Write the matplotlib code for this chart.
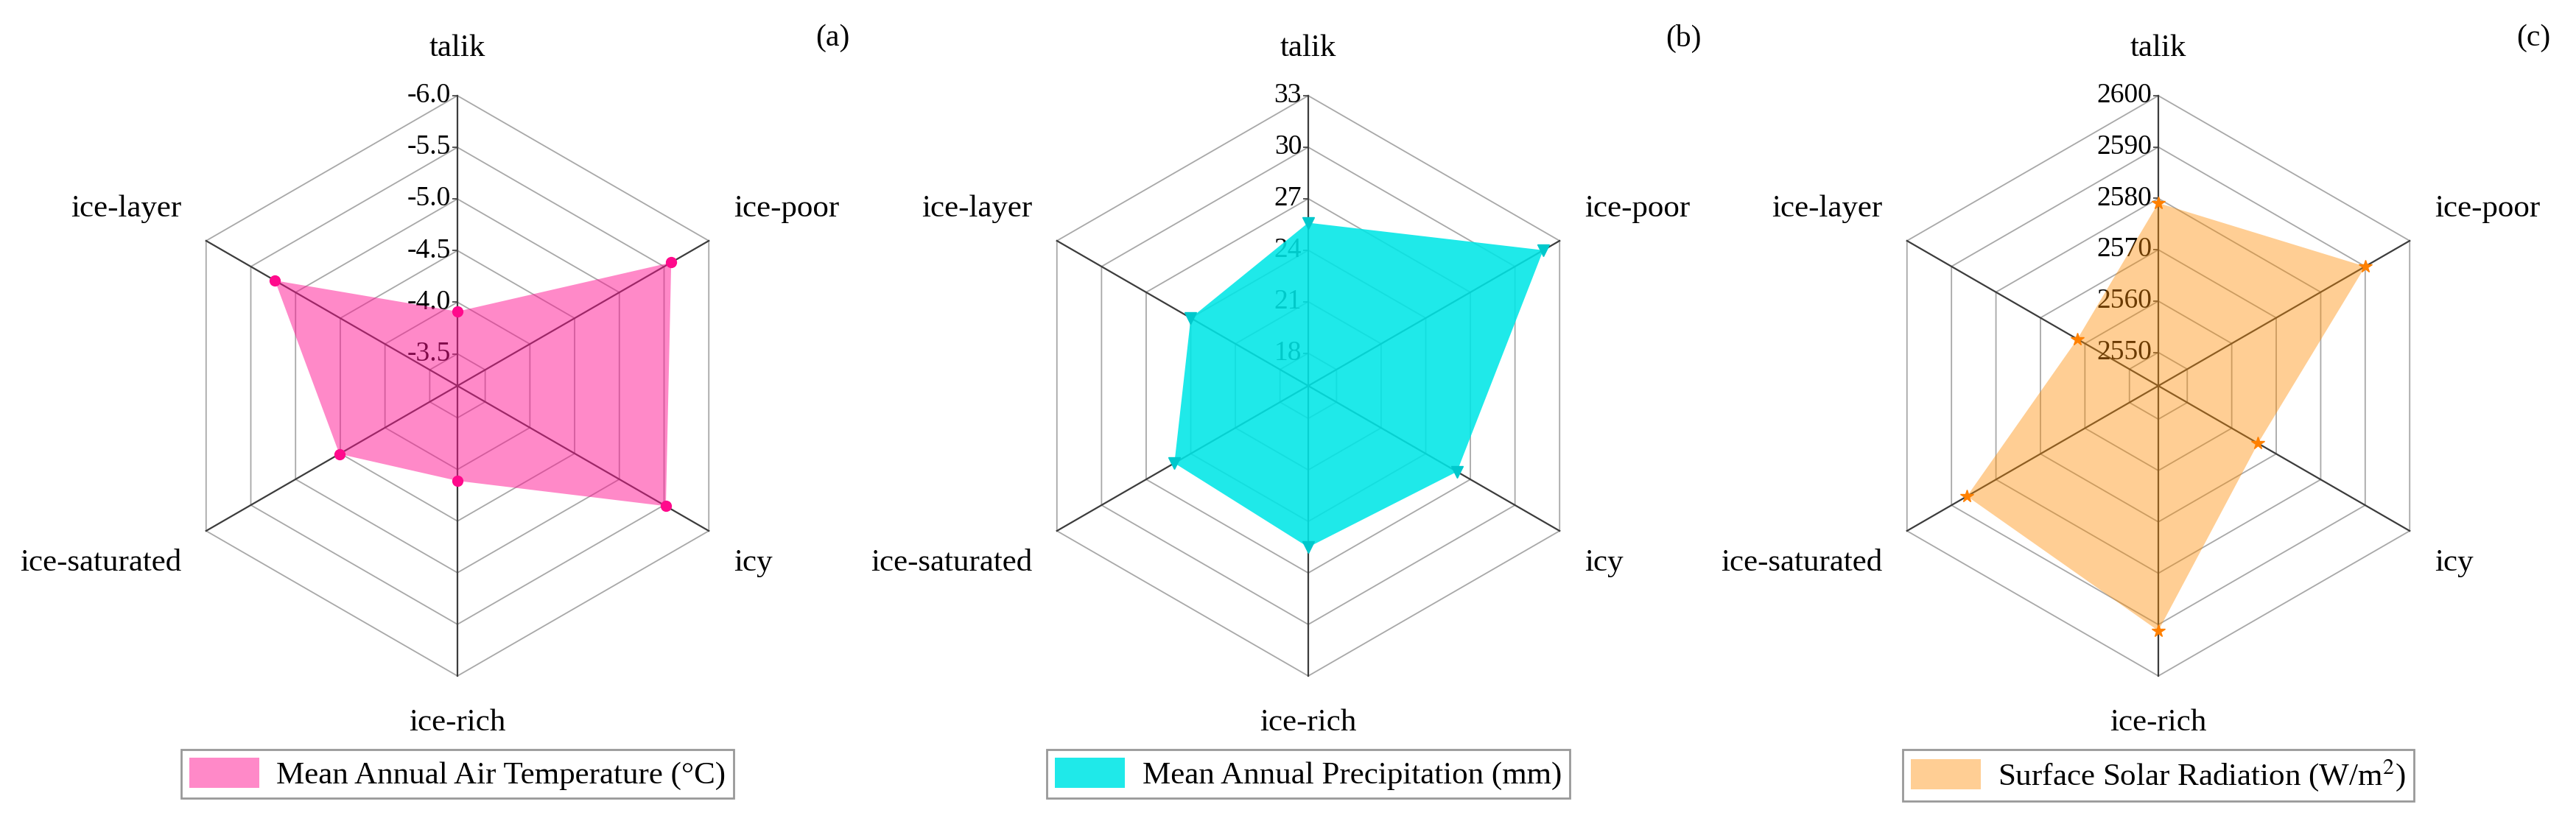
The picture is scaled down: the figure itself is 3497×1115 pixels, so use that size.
import numpy as np
import matplotlib
matplotlib.use('Agg')
import matplotlib.pyplot as plt
from matplotlib.transforms import offset_copy

plt.rcParams['font.family'] = 'serif'
plt.rcParams['font.serif'] = ['Liberation Serif', 'DejaVu Serif']
plt.rcParams['mathtext.fontset'] = 'stix'

# categories, clockwise from the top
categories = ['talik', 'ice-poor', 'icy', 'ice-rich', 'ice-saturated', 'ice-layer']

# values, same order as categories
temperature = [-3.91, -5.58, -5.52, -4.11, -4.51, -5.23]
precipitation = [25.6, 31.9, 26.1, 25.5, 25.1, 24.0]
radiation = [2579.1, 2590.0, 2565.9, 2591.2, 2586.5, 2561.7]

temp_ticks = [-3.5, -4.0, -4.5, -5.0, -5.5, -6.0]
temp_labels = ['-3.5', '-4.0', '-4.5', '-5.0', '-5.5', '-6.0']
precip_ticks = [18, 21, 24, 27, 30, 33]
rad_ticks = [2550, 2560, 2570, 2580, 2590, 2600]

panels = [
    dict(values=temperature, ticks=temp_ticks, labels=temp_labels, rlim=(-3.19, -6.0),
         fill='#ff1493', alpha=0.5, mcolor='#ff0a8c', marker='o', ms=10,
         legend='Mean Annual Air Temperature (°C)', letter='(a)', cx=621),
    dict(values=precipitation, ticks=precip_ticks, labels=[str(t) for t in precip_ticks],
         rlim=(16.1, 33), fill='#00e6e6', alpha=0.88, mcolor='#00c8cc', marker='v', ms=11,
         legend='Mean Annual Precipitation (mm)', letter='(b)', cx=1776),
    dict(values=radiation, ticks=rad_ticks, labels=[str(t) for t in rad_ticks],
         rlim=(2543.5, 2600), fill='#ff8c00', alpha=0.42, mcolor='#ff8000', marker='*', ms=13,
         legend=r'Surface Solar Radiation (W/m$^{2}$)', letter='(c)', cx=2930),
]

W, H = 3497, 1115
R = 394
cy = 524
fig = plt.figure(figsize=(W / 100, H / 100), dpi=100)

angles = np.linspace(0, 2 * np.pi, len(categories), endpoint=False)
closed = np.append(angles, angles[0])

# label anchors in axes fraction
label_pos = [(0.5, 1.081, 'center'), (0.976, 0.805, 'left'), (0.976, 0.195, 'left'),
             (0.5, -0.081, 'center'), (0.024, 0.195, 'right'), (0.024, 0.805, 'right')]

for p in panels:
    ax = fig.add_axes([(p['cx'] - R) / W, (H - cy - R) / H, 2 * R / W, 2 * R / H],
                      projection='polar')
    ax.set_theta_offset(np.pi / 2)
    ax.set_theta_direction(-1)
    ax.grid(False)
    ax.spines['polar'].set_visible(False)
    ax.set_xticks([])
    ax.set_yticks([])

    r0, r1 = p['rlim']
    # hexagonal rings
    for t in p['ticks']:
        ax.plot(closed, [t] * len(closed), color='#a8a8a8', lw=1.3, zorder=1, clip_on=False)
    # spokes
    for a in angles:
        ax.plot([a, a], [r0, r1], color='#3c3c3c', lw=1.6, zorder=1, clip_on=False)
    # small ticks and labels on the talik spoke
    ax.plot([0] * len(p['ticks']), p['ticks'], ls='none', marker=0, ms=5,
            color='#3c3c3c', mew=1.2, zorder=1, clip_on=False)
    off = offset_copy(ax.transData, fig=fig, x=-9, y=0, units='dots')
    for t, lab in zip(p['ticks'], p['labels']):
        ax.text(0, t, lab, transform=off, ha='right', va='center', fontsize=27, zorder=2)

    vals = np.append(p['values'], p['values'][0])
    ax.fill(closed, vals, color=p['fill'], alpha=p['alpha'], lw=0, zorder=3,
            label=p['legend'])
    ax.plot(angles, p['values'], ls='none', marker=p['marker'], ms=p['ms'],
            color=p['mcolor'], zorder=4, clip_on=False)
    ax.set_ylim(r0, r1)

    for name, (x, y, ha) in zip(categories, label_pos):
        ax.text(x, y, name, transform=ax.transAxes, ha=ha, va='center', fontsize=31)

    leg = ax.legend(loc='upper center', bbox_to_anchor=(0.5, -0.127), fontsize=31,
                    fancybox=False, framealpha=1, edgecolor='#999999', borderpad=0.25,
                    handlelength=2.2, handleheight=1.1, handletextpad=0.55, borderaxespad=0)
    leg.get_frame().set_linewidth(2)

    fig.text((p['cx'] + 509) / W, 1 - 52 / H, p['letter'], ha='center', va='center', fontsize=30)

fig.savefig('out.png', dpi=100)
